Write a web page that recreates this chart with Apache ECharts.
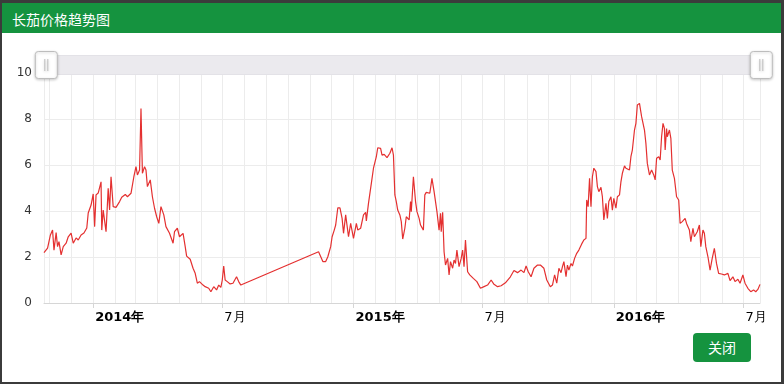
<!DOCTYPE html>
<html>
<head>
<meta charset="utf-8">
<script src="https://cdn.jsdelivr.net/npm/echarts@6/dist/echarts.min.js"></script>
<style>
html,body{margin:0;padding:0;width:784px;height:384px;overflow:hidden;background:#3b3b3b;}
#modal{position:absolute;left:2px;top:3px;width:779px;height:379px;background:#fff;}
#hdr{position:absolute;left:2px;top:3px;width:779px;height:30px;background:#15933f;color:#fff;font-size:14px;font-family:"Noto Sans CJK SC",sans-serif;line-height:32px;z-index:2;}
#hdr span{position:absolute;left:10px;top:0;}
#chart{position:absolute;left:0;top:0;width:784px;height:384px;z-index:1;}
#btn{position:absolute;left:693px;top:333px;width:58px;height:29px;background:#15933f;border-radius:4px;color:#fff;font-size:14px;font-family:"Noto Sans CJK SC",sans-serif;line-height:29px;text-align:center;z-index:2;}
</style>
</head>
<body>
<div id="modal"></div>
<div id="hdr"><span>长茄价格趋势图</span></div>
<div id="chart"></div>
<div id="btn">关闭</div>
<script>
const dates = [
'2013-10-24','2013-10-29','2013-11-02','2013-11-05','2013-11-07','2013-11-10','2013-11-12','2013-11-14','2013-11-17','2013-11-20',
'2013-11-24','2013-11-27','2013-12-01','2013-12-04','2013-12-08','2013-12-11','2013-12-15','2013-12-19','2013-12-23','2013-12-25',
'2013-12-29','2014-01-01','2014-01-03','2014-01-05','2014-01-08','2014-01-12','2014-01-13','2014-01-15','2014-01-19','2014-01-22',
'2014-01-24','2014-01-26','2014-01-29','2014-02-02','2014-02-07','2014-02-10','2014-02-15','2014-02-18','2014-02-23','2014-02-27',
'2014-03-02','2014-03-04','2014-03-07','2014-03-09','2014-03-11','2014-03-14','2014-03-16','2014-03-18','2014-03-22','2014-03-25',
'2014-03-28','2014-03-31','2014-04-03','2014-04-06','2014-04-10','2014-04-13','2014-04-18','2014-04-23','2014-04-25','2014-04-29',
'2014-05-02','2014-05-07','2014-05-10','2014-05-12','2014-05-17','2014-05-21','2014-05-24','2014-05-27','2014-05-30','2014-05-31',
'2014-06-04','2014-06-07','2014-06-12','2014-06-15','2014-06-19','2014-06-23','2014-06-26','2014-06-29','2014-07-01','2014-07-03',
'2014-07-05','2014-07-08','2014-07-12','2014-07-16','2014-07-21','2014-07-24','2014-07-27',
'2014-11-13','2014-11-15','2014-11-19','2014-11-23','2014-11-26','2014-11-30','2014-12-02','2014-12-05',
'2014-12-07','2014-12-10','2014-12-13','2014-12-16','2014-12-18','2014-12-21','2014-12-23','2014-12-25','2014-12-28','2014-12-30',
'2015-01-01','2015-01-05','2015-01-07','2015-01-11','2015-01-15','2015-01-18','2015-01-19','2015-01-22','2015-01-24','2015-01-26',
'2015-01-29','2015-01-31','2015-02-02','2015-02-04','2015-02-08','2015-02-10','2015-02-13','2015-02-17','2015-02-21','2015-02-24',
'2015-02-26','2015-02-28','2015-03-02','2015-03-04','2015-03-07','2015-03-09','2015-03-11','2015-03-14','2015-03-16','2015-03-18',
'2015-03-20','2015-03-22','2015-03-23','2015-03-26','2015-03-29','2015-03-31','2015-04-03','2015-04-05','2015-04-09','2015-04-11',
'2015-04-13','2015-04-18','2015-04-21','2015-04-24','2015-04-26','2015-04-28','2015-05-01','2015-05-03','2015-05-04','2015-05-06',
'2015-05-08','2015-05-10','2015-05-13','2015-05-15','2015-05-17','2015-05-20','2015-05-22','2015-05-24','2015-05-26','2015-05-29',
'2015-06-01','2015-06-03','2015-06-05','2015-06-07','2015-06-10','2015-06-13','2015-06-18','2015-06-23','2015-06-28','2015-07-03',
'2015-07-08','2015-07-13','2015-07-17','2015-07-22','2015-07-27',
'2015-08-02','2015-08-09','2015-08-14','2015-08-19','2015-08-24','2015-08-28','2015-08-31','2015-09-03','2015-09-07','2015-09-11',
'2015-09-16','2015-09-20','2015-09-25','2015-09-29','2015-10-04','2015-10-07','2015-10-10','2015-10-13','2015-10-16','2015-10-19',
'2015-10-21','2015-10-23','2015-10-26','2015-10-28','2015-10-30','2015-11-02','2015-11-04','2015-11-07','2015-11-10','2015-11-13',
'2015-11-17','2015-11-20','2015-11-23','2015-11-24','2015-11-26','2015-11-28','2015-11-30','2015-12-02','2015-12-04','2015-12-07',
'2015-12-09','2015-12-11','2015-12-14','2015-12-16','2015-12-18','2015-12-21','2015-12-23','2015-12-25','2015-12-28','2015-12-30',
'2016-01-01','2016-01-04','2016-01-06','2016-01-09','2016-01-11','2016-01-13','2016-01-16','2016-01-18','2016-01-20','2016-01-23',
'2016-01-25','2016-01-27','2016-01-30','2016-02-01','2016-02-03','2016-02-06','2016-02-09','2016-02-13','2016-02-15','2016-02-17',
'2016-02-20','2016-02-23','2016-02-26','2016-02-28','2016-03-01','2016-03-04','2016-03-06','2016-03-08','2016-03-10','2016-03-12',
'2016-03-13','2016-03-15','2016-03-16','2016-03-19','2016-03-21','2016-03-23','2016-03-26','2016-03-28','2016-03-29','2016-04-01',
'2016-04-03','2016-04-06','2016-04-10','2016-04-12','2016-04-16','2016-04-18','2016-04-21','2016-04-23','2016-04-27','2016-04-30',
'2016-05-02','2016-05-05','2016-05-07','2016-05-09','2016-05-12','2016-05-15','2016-05-18','2016-05-21','2016-05-24','2016-05-27',
'2016-05-31','2016-06-04','2016-06-09','2016-06-12','2016-06-16','2016-06-19','2016-06-23','2016-06-26','2016-06-30','2016-07-03',
'2016-07-07','2016-07-11','2016-07-15','2016-07-18','2016-07-21','2016-07-24'
];
const prices = [
2.19,2.39,2.96,3.17,2.30,3.06,2.45,2.67,2.09,2.45,
2.60,2.88,3.04,2.60,2.83,2.74,2.96,3.04,3.26,3.91,
4.26,4.74,3.32,4.70,4.78,5.27,3.17,4.04,3.10,4.99,
4.04,5.49,4.19,4.16,4.41,4.60,4.72,4.62,4.77,5.49,
5.93,5.57,5.78,8.46,5.64,5.93,5.78,5.06,5.35,4.62,
4.12,3.75,3.46,4.19,3.83,3.32,3.03,2.60,3.10,3.25,
2.88,3.03,2.45,2.04,1.90,1.51,1.29,0.86,0.93,0.88,
0.78,0.71,0.64,0.49,0.71,0.57,0.78,0.68,1.00,1.61,
1.00,0.93,0.83,0.86,1.14,0.93,0.78,
2.23,2.09,1.80,1.80,2.01,2.45,2.88,3.17,
3.39,4.14,4.14,3.68,3.03,3.83,3.75,2.88,3.46,3.54,
2.81,3.46,3.17,3.25,3.83,3.94,3.57,4.33,4.26,5.20,
5.86,5.93,6.36,6.75,6.72,6.43,6.46,6.32,6.51,6.75,
6.43,4.70,4.41,4.04,3.83,3.54,2.78,3.25,3.75,3.83,
3.61,4.41,3.97,5.49,4.41,3.97,3.68,3.39,3.17,4.70,
4.81,4.77,5.42,4.84,4.41,3.97,3.17,3.90,3.10,3.94,
2.23,1.65,1.94,1.22,1.80,1.51,1.87,1.72,2.30,1.58,
1.94,2.30,1.58,2.74,1.36,1.22,1.07,0.93,0.64,0.71,
0.78,1.00,0.81,0.71,0.75,
0.88,1.14,1.41,1.32,1.43,1.32,1.61,1.36,1.14,1.51,
1.65,1.65,1.51,1.00,0.71,0.78,1.22,0.86,1.51,1.32,
1.58,1.80,1.14,1.65,1.43,1.72,1.61,1.94,2.16,2.30,
2.57,2.74,2.81,4.48,4.19,5.42,4.19,5.49,5.86,5.71,
5.06,4.84,5.03,4.62,3.61,4.33,3.68,4.41,4.62,4.04,
4.55,4.12,4.62,4.70,5.27,5.64,5.96,5.86,5.86,5.78,
6.36,6.65,7.52,7.81,8.61,8.68,8.10,7.52,6.94,6.07,
5.57,5.78,5.57,5.35,6.29,6.36,6.22,7.23,7.81,7.59,
6.65,7.59,7.23,7.52,7.16,5.78,5.42,5.49,4.62,4.48,
3.46,3.54,3.68,3.46,3.17,2.67,3.25,2.88,3.10,3.39,
2.45,3.17,3.03,2.45,2.01,1.43,1.94,2.38,1.72,1.29,
1.26,1.22,1.29,0.97,1.14,0.93,1.03,0.86,1.22,0.86,
0.64,0.49,0.57,0.49,0.59,0.81
];
const yTicks = [0, 2, 4, 6, 8, 10];

const DAY = 86400000;
const seriesData = dates.map((d, i) => [d, prices[i]]);
const chart = echarts.init(document.getElementById('chart'));
const option = {
  animation: false,
  grid: { left: 44, right: 24, top: 73, bottom: 81 },
  dataZoom: [{
    type: 'slider', xAxisIndex: 0, start: 0, end: 100,
    left: 44, right: 23, top: 55, height: 20,
    showDetail: false, showDataShadow: false, brushSelect: false, moveHandleSize: 0,
    backgroundColor: '#ebeaee', borderColor: '#e3e2e7',
    fillerColor: 'rgba(235,234,238,1)',
    handleIcon: 'path://M3,0H19A3,3,0,0,1,22,3V24A3,3,0,0,1,19,27H3A3,3,0,0,1,0,24V3A3,3,0,0,1,3,0ZM9.5,7.5V19.5M12.5,7.5V19.5',
    handleSize: 27,
    handleStyle: { color: '#fff', borderColor: '#bdbdbd', borderWidth: 1, shadowBlur: 3, shadowColor: 'rgba(0,0,0,0.2)', shadowOffsetY: 1 }
  }],
  xAxis: [{
    type: 'time', min: 'dataMin', max: 'dataMax',
    splitNumber: 33, minInterval: 28 * DAY, maxInterval: 31 * DAY,
    axisLine: { lineStyle: { color: '#d6d6d6' } },
    axisTick: { show: false },
    axisLabel: { show: false },
    splitLine: { show: true, lineStyle: { color: '#ececec', width: 1 } }
  }, {
    type: 'time', position: 'bottom',
    min: dates[0], max: dates[dates.length - 1],
    splitNumber: 5, minInterval: 190 * DAY, maxInterval: 190 * DAY,
    axisLine: { show: false },
    axisTick: { show: true, length: 5, lineStyle: { color: '#d6d6d6' } },
    splitLine: { show: false },
    axisLabel: {
      align: 'left', margin: 8, padding: [0, 0, 0, 2],
      fontFamily: 'DejaVu Sans', fontSize: 13, color: '#000',
      formatter: function (v) {
        const d = new Date(v);
        if (d.getMonth() === 0) return '{y|' + d.getFullYear() + '年}';
        return (d.getMonth() + 1) + '月';
      },
      rich: { y: { fontWeight: 'bold', fontFamily: 'DejaVu Sans', fontSize: 13, color: '#000' } }
    }
  }],
  yAxis: {
    type: 'value', min: yTicks[0], max: yTicks[yTicks.length - 1], interval: 2,
    axisLine: { show: false }, axisTick: { show: false },
    axisLabel: { fontFamily: 'DejaVu Sans', fontSize: 12, color: '#333', margin: 12 },
    splitLine: { lineStyle: { color: '#ececec' } }
  },
  series: [{
    type: 'line', xAxisIndex: 0, data: seriesData,
    showSymbol: false, symbol: 'none', sampling: null,
    lineStyle: { width: 1.2, color: '#e43030' },
    itemStyle: { color: '#e43030' }
  }]
};
chart.setOption(option);
</script>
</body>
</html>
